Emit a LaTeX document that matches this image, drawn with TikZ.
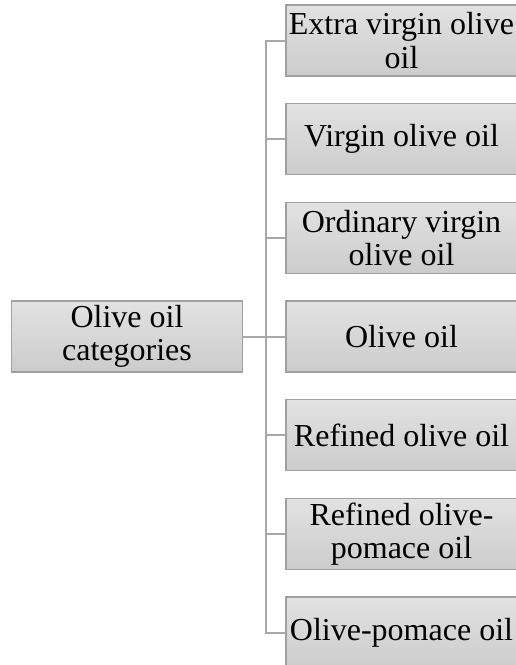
\documentclass[tikz,border=0pt]{standalone}
\usepackage{fontspec}
\setmainfont{Liberation Serif}
\usetikzlibrary{positioning}

\definecolor{boxtop}{HTML}{E2E2E2}
\definecolor{boxbot}{HTML}{CCCCCC}
\definecolor{boxline}{HTML}{A0A0A0}
\definecolor{link}{HTML}{A8A8A8}

\begin{document}
\begin{tikzpicture}[x=0.75pt,y=-0.75pt,
  b/.style={draw=boxline,line width=1.2pt,top color=boxtop,bottom color=boxbot,
    minimum width=173pt,minimum height=53.25pt,inner sep=0pt,align=center,
    font=\fontsize{24}{25}\selectfont},
  l/.style={draw=link,line width=1.5pt}]
  \useasboundingbox (0,0) rectangle (515,665);
  \node[b] (root) at (127,336.5) {Olive oil\\categories};
  \foreach \i/\t in {1/{Extra virgin olive\\oil},2/{Virgin olive oil},
      3/{Ordinary virgin\\olive oil},4/{Olive oil},5/{Refined olive oil},
      6/{Refined olive-\\pomace oil},7/{Olive-pomace oil}} {
    \pgfmathsetmacro{\y}{40.5+98.67*(\i-1)}
    \node[b] (c\i) at (401.5,\y) {\t};
    \draw[l] (root.east) -- ++(23,0) |- (c\i.west);
  }
\end{tikzpicture}
\end{document}
